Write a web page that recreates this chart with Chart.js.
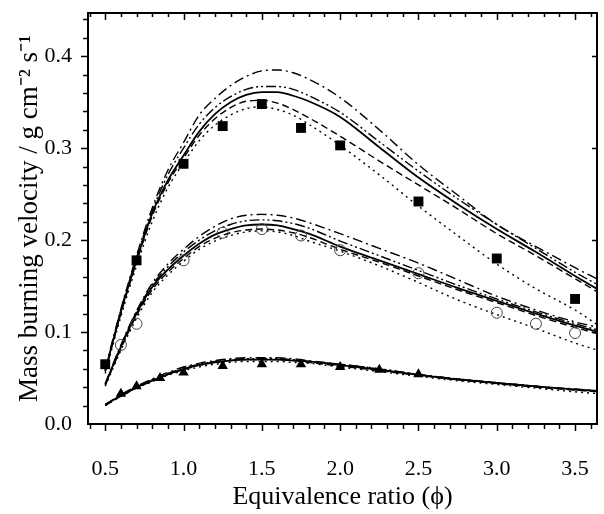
<!DOCTYPE html>
<html>
<head>
<meta charset="utf-8">
<script src="https://cdn.jsdelivr.net/npm/chart.js@4.4.0/dist/chart.umd.min.js"></script>
<style>
  html, body { margin: 0; padding: 0; background: #fff; }
</style>
</head>
<body>
<canvas id="myChart" width="604" height="514"></canvas>
<script>
// x positions shared by every model curve
const curveX = [0.5, 0.6, 0.7, 0.8, 0.9, 1.0, 1.1, 1.2, 1.3, 1.4, 1.5, 1.6, 1.7, 1.8, 2.0, 2.25, 2.5, 2.75, 3.0, 3.25, 3.5, 3.65];

// upper family (filled squares)
const sqSolid   = [0.058, 0.122, 0.178, 0.229, 0.265, 0.292, 0.318, 0.337, 0.350, 0.358, 0.361, 0.361, 0.357, 0.351, 0.334, 0.301, 0.268, 0.239, 0.212, 0.187, 0.161, 0.146];
const sqDashDot = [0.060, 0.125, 0.183, 0.235, 0.276, 0.306, 0.336, 0.354, 0.368, 0.378, 0.384, 0.385, 0.382, 0.375, 0.355, 0.320, 0.282, 0.249, 0.217, 0.193, 0.170, 0.157];
const sqDDot    = [0.058, 0.124, 0.181, 0.232, 0.271, 0.300, 0.326, 0.344, 0.356, 0.364, 0.367, 0.367, 0.364, 0.357, 0.339, 0.307, 0.275, 0.245, 0.217, 0.191, 0.165, 0.151];
const sqDash    = [0.057, 0.120, 0.176, 0.226, 0.262, 0.289, 0.314, 0.332, 0.344, 0.351, 0.352, 0.349, 0.342, 0.333, 0.313, 0.286, 0.260, 0.234, 0.207, 0.183, 0.158, 0.143];
const sqDot     = [0.055, 0.117, 0.172, 0.220, 0.257, 0.284, 0.308, 0.325, 0.336, 0.343, 0.345, 0.342, 0.336, 0.326, 0.303, 0.271, 0.237, 0.205, 0.174, 0.147, 0.124, 0.107];

// middle family (open circles)
const ciSolid   = [0.043, 0.084, 0.120, 0.149, 0.168, 0.183, 0.196, 0.206, 0.212, 0.216, 0.217, 0.216, 0.212, 0.207, 0.193, 0.178, 0.163, 0.148, 0.134, 0.120, 0.107, 0.100];
const ciDashDot = [0.044, 0.086, 0.123, 0.153, 0.174, 0.190, 0.204, 0.215, 0.223, 0.227, 0.228, 0.227, 0.224, 0.219, 0.207, 0.191, 0.175, 0.157, 0.139, 0.124, 0.111, 0.105];
const ciDDot    = [0.043, 0.085, 0.122, 0.151, 0.171, 0.187, 0.200, 0.210, 0.217, 0.221, 0.222, 0.221, 0.218, 0.213, 0.199, 0.183, 0.167, 0.151, 0.136, 0.122, 0.109, 0.102];
const ciDash    = [0.042, 0.082, 0.118, 0.146, 0.165, 0.180, 0.193, 0.202, 0.208, 0.211, 0.212, 0.211, 0.208, 0.203, 0.190, 0.176, 0.161, 0.146, 0.132, 0.118, 0.105, 0.098];
const ciDot     = [0.041, 0.080, 0.115, 0.143, 0.162, 0.177, 0.190, 0.199, 0.205, 0.209, 0.210, 0.209, 0.205, 0.199, 0.188, 0.172, 0.154, 0.135, 0.119, 0.104, 0.088, 0.080];

// lower family (filled triangles)
const trSolid   = [0.021, 0.031, 0.040, 0.047, 0.054, 0.060, 0.064, 0.067, 0.069, 0.070, 0.070, 0.070, 0.069, 0.068, 0.064, 0.059, 0.0535, 0.0485, 0.0445, 0.041, 0.0375, 0.036];
const trDashDot = [0.021, 0.032, 0.041, 0.049, 0.056, 0.062, 0.066, 0.069, 0.071, 0.072, 0.072, 0.072, 0.071, 0.069, 0.065, 0.060, 0.054, 0.049, 0.045, 0.041, 0.038, 0.036];
const trDDot    = [0.021, 0.031, 0.040, 0.048, 0.055, 0.061, 0.065, 0.068, 0.070, 0.071, 0.071, 0.071, 0.070, 0.068, 0.065, 0.060, 0.054, 0.049, 0.045, 0.041, 0.037, 0.036];
const trDash    = [0.020, 0.030, 0.039, 0.047, 0.054, 0.059, 0.064, 0.067, 0.069, 0.070, 0.070, 0.070, 0.069, 0.067, 0.063, 0.058, 0.053, 0.048, 0.044, 0.040, 0.037, 0.035];
const trDot     = [0.020, 0.030, 0.039, 0.046, 0.053, 0.058, 0.062, 0.065, 0.067, 0.068, 0.068, 0.068, 0.067, 0.066, 0.062, 0.057, 0.052, 0.047, 0.043, 0.039, 0.035, 0.033];

// measured points
const squareX   = [0.5, 0.7, 1.0, 1.25, 1.5, 1.75, 2.0, 2.5, 3.0, 3.5];
const squareY   = [0.065, 0.178, 0.283, 0.324, 0.348, 0.322, 0.303, 0.242, 0.180, 0.136];
const circleX   = [0.6, 0.7, 1.0, 1.25, 1.5, 1.75, 2.0, 2.5, 3.0, 3.25, 3.5];
const circleY   = [0.086, 0.109, 0.178, 0.208, 0.212, 0.205, 0.189, 0.164, 0.121, 0.109, 0.099];
const triangleX = [0.6, 0.7, 0.85, 1.0, 1.25, 1.5, 1.75, 2.0, 2.25, 2.5];
const triangleY = [0.033, 0.041, 0.050, 0.056, 0.063, 0.065, 0.065, 0.062, 0.059, 0.054];

// tick labels
const xTicks = [0.5, 1.0, 1.5, 2.0, 2.5, 3.0, 3.5];
const yTicks = [0.0, 0.1, 0.2, 0.3, 0.4];

const serif = "'Liberation Serif', 'Times New Roman', serif";

function pts(xs, ys) {
  return xs.map((x, i) => ({ x: x, y: ys[i] }));
}

// dash patterns for the five model variants
const styles = {
  solid:   { dash: [], width: 1.8 },
  dashDot: { dash: [10, 4, 2, 4], width: 1.4 },
  dDot:    { dash: [10, 3, 2, 3, 2, 3], width: 1.4 },
  dash:    { dash: [7, 4], width: 1.4 },
  dot:     { dash: [2, 4], width: 1.4 }
};

function curve(ys, kind) {
  return {
    data: pts(curveX, ys),
    showLine: true,
    borderColor: '#000',
    borderWidth: styles[kind].width,
    borderDash: styles[kind].dash,
    pointRadius: 0,
    cubicInterpolationMode: 'monotone',
    order: 1
  };
}

const datasets = [
  { data: pts(squareX, squareY), pointStyle: 'rect', pointRadius: 7, backgroundColor: '#000', borderWidth: 0, order: 0 },
  { data: pts(circleX, circleY), pointStyle: 'circle', pointRadius: 5.5, backgroundColor: 'rgba(0,0,0,0)', borderColor: '#444', borderWidth: 1, order: 0 },
  { data: pts(triangleX, triangleY), pointStyle: 'triangle', pointRadius: 6, backgroundColor: '#000', borderWidth: 0, order: 0 },
  curve(sqSolid, 'solid'), curve(sqDashDot, 'dashDot'), curve(sqDDot, 'dDot'), curve(sqDash, 'dash'), curve(sqDot, 'dot'),
  curve(ciSolid, 'solid'), curve(ciDashDot, 'dashDot'), curve(ciDDot, 'dDot'), curve(ciDash, 'dash'), curve(ciDot, 'dot'),
  curve(trSolid, 'solid'), curve(trDashDot, 'dashDot'), curve(trDDot, 'dDot'), curve(trDash, 'dash'), curve(trDot, 'dot')
];

// frame plus major/minor tick marks (in on top/right, out on bottom/left)
const frameTicks = {
  id: 'frameTicks',
  afterDatasetsDraw(chart) {
    const { ctx, chartArea: a, scales: { x, y } } = chart;
    ctx.save();
    ctx.strokeStyle = '#000';
    ctx.lineWidth = 2;
    ctx.strokeRect(a.left, a.top, a.right - a.left, a.bottom - a.top);
    ctx.lineWidth = 1.5;
    ctx.beginPath();
    for (let i = 4; i <= 36; i++) {
      const px = Math.round(x.getPixelForValue(i / 10)) + 0.5;
      if (px < a.left + 2 || px > a.right - 2) continue;
      const major = i % 5 === 0;
      ctx.moveTo(px, a.bottom); ctx.lineTo(px, a.bottom + (major ? 7 : 5));
      ctx.moveTo(px, a.top); ctx.lineTo(px, a.top + (major ? 7 : 4));
    }
    for (let i = 1; i <= 22; i++) {
      const py = Math.round(y.getPixelForValue(i / 50)) + 0.5;
      if (py < a.top + 2) continue;
      const major = i % 5 === 0;
      ctx.moveTo(a.left, py); ctx.lineTo(a.left - (major ? 7 : 5), py);
      if (major) { ctx.moveTo(a.right, py); ctx.lineTo(a.right - 5, py); }
    }
    ctx.stroke();
    ctx.restore();
  }
};

const ctx = document.getElementById('myChart');

const myChart = new Chart(ctx, {
  type: 'scatter',
  data: { datasets: datasets },
  plugins: [frameTicks],
  options: {
    responsive: false,
    animation: false,
    layout: { padding: { top: 13, right: 2, left: 0, bottom: 0 } },
    plugins: { legend: { display: false }, tooltip: { enabled: false } },
    scales: {
      x: {
        type: 'linear',
        min: 0.39,
        max: 3.64,
        afterBuildTicks: s => { s.ticks = xTicks.map(v => ({ value: v })); },
        afterFit: s => { s.height = 90; s.paddingLeft = 0; s.paddingRight = 0; },
        grid: { display: false },
        border: { display: false },
        ticks: {
          callback: v => v.toFixed(1),
          font: { family: serif, size: 22 },
          color: '#000',
          padding: 24,
          maxRotation: 0,
          autoSkip: false
        },
        title: {
          display: true,
          text: 'Equivalence ratio (\u03D5)',
          font: { family: serif, size: 26 },
          color: '#000',
          padding: { top: 0, bottom: 1 }
        }
      },
      y: {
        min: 0,
        max: 0.447,
        afterBuildTicks: s => { s.ticks = yTicks.map(v => ({ value: v })); },
        afterFit: s => { s.width = 88; s.paddingTop = 0; s.paddingBottom = 0; },
        grid: { display: false },
        border: { display: false },
        ticks: {
          callback: v => v.toFixed(1),
          font: { family: serif, size: 22 },
          color: '#000',
          padding: 8
        },
        title: {
          display: true,
          text: 'Mass burning velocity / g cm\u207B\u00B2 s\u207B\u00B9',
          font: { family: serif, size: 27 },
          color: '#000',
          padding: { top: 14, bottom: 0 }
        }
      }
    }
  }
});
</script>
</body>
</html>
